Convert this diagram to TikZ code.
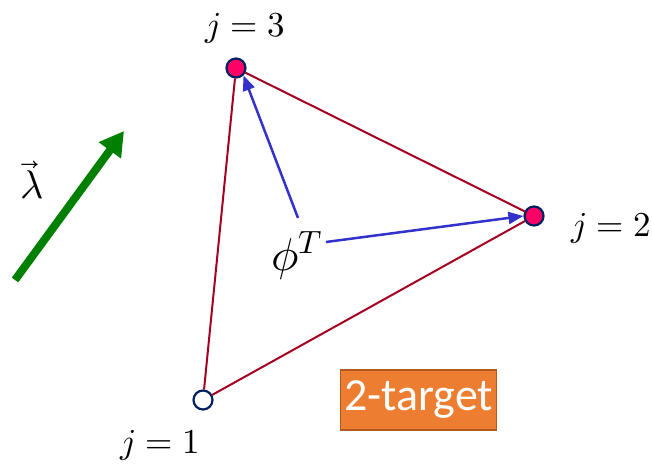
\documentclass[tikz,border=0pt]{standalone}
\usepackage{fontspec}
\usepackage{unicode-math}
\setmathfont{Latin Modern Math}
\newfontfamily\carlito{Carlito}
\usetikzlibrary{arrows.meta}
\definecolor{edgered}{HTML}{A50021}
\definecolor{nodepink}{HTML}{FF0066}
\definecolor{navyb}{HTML}{002060}
\definecolor{arrblue}{HTML}{3333CC}
\definecolor{orangebox}{HTML}{ED7D31}
\definecolor{orangeedge}{HTML}{AE5A21}
\definecolor{arrgreen}{HTML}{008000}
\tikzset{
  vtx/.style={circle, draw=navyb, line width=2.2pt, minimum size=19pt, inner sep=0pt},
  edge/.style={draw=edgered, line width=2pt},
  barrow/.style={draw=arrblue, line width=2.5pt, -{Triangle[length=15pt,width=12pt]}},
  lbl/.style={inner sep=0pt, font=\fontsize{35}{40}\selectfont},
}
\begin{document}
\begin{tikzpicture}[x=1pt,y=-1pt]
\useasboundingbox (0,0) rectangle (652,470);
% vertices
\node[vtx, fill=nodepink] (v3) at (236,68) {};
\node[vtx, fill=nodepink] (v2) at (534,216) {};
\node[vtx, fill=white] (v1) at (203,400) {};
% edges
\draw[edge] (v1) -- (v3);
\draw[edge] (v3) -- (v2);
\draw[edge] (v1) -- (v2);
% labels
\node[lbl] (l3) at (245,28) {$j=3$};
\node[lbl] (l2) at (611,228) {$j=2$};
\node[lbl] (l1) at (160,445) {$j=1$};
% phi
\node[inner sep=0pt, font=\fontsize{46}{52}\selectfont] (phi) at (297,256) {$\phi^T$};
\coordinate (a1s) at (298,218);
\coordinate (a2s) at (326,242);
\draw[barrow] (a1s) -- (v3.south east);
\draw[barrow] (a2s) -- (v2.west);
% lambda
\node[inner sep=0pt, font=\fontsize{40}{46}\selectfont] (lam) at (32,180) {$\vec{\lambda}$};
\coordinate (gs) at (15,280);
\coordinate (ge) at (124,131);
\draw[draw=arrgreen, line width=8pt, -{Triangle[length=24pt,width=26pt]}] (gs) -- (ge);
% 2-target
\node[fill=orangebox, draw=orangeedge, line width=1.2pt, text=white,
      minimum width=156pt, minimum height=60pt, inner sep=0pt,
      font=\carlito\fontsize{46}{50}\selectfont] (tgt) at (418.5,400) {2-target};
\end{tikzpicture}
\end{document}
